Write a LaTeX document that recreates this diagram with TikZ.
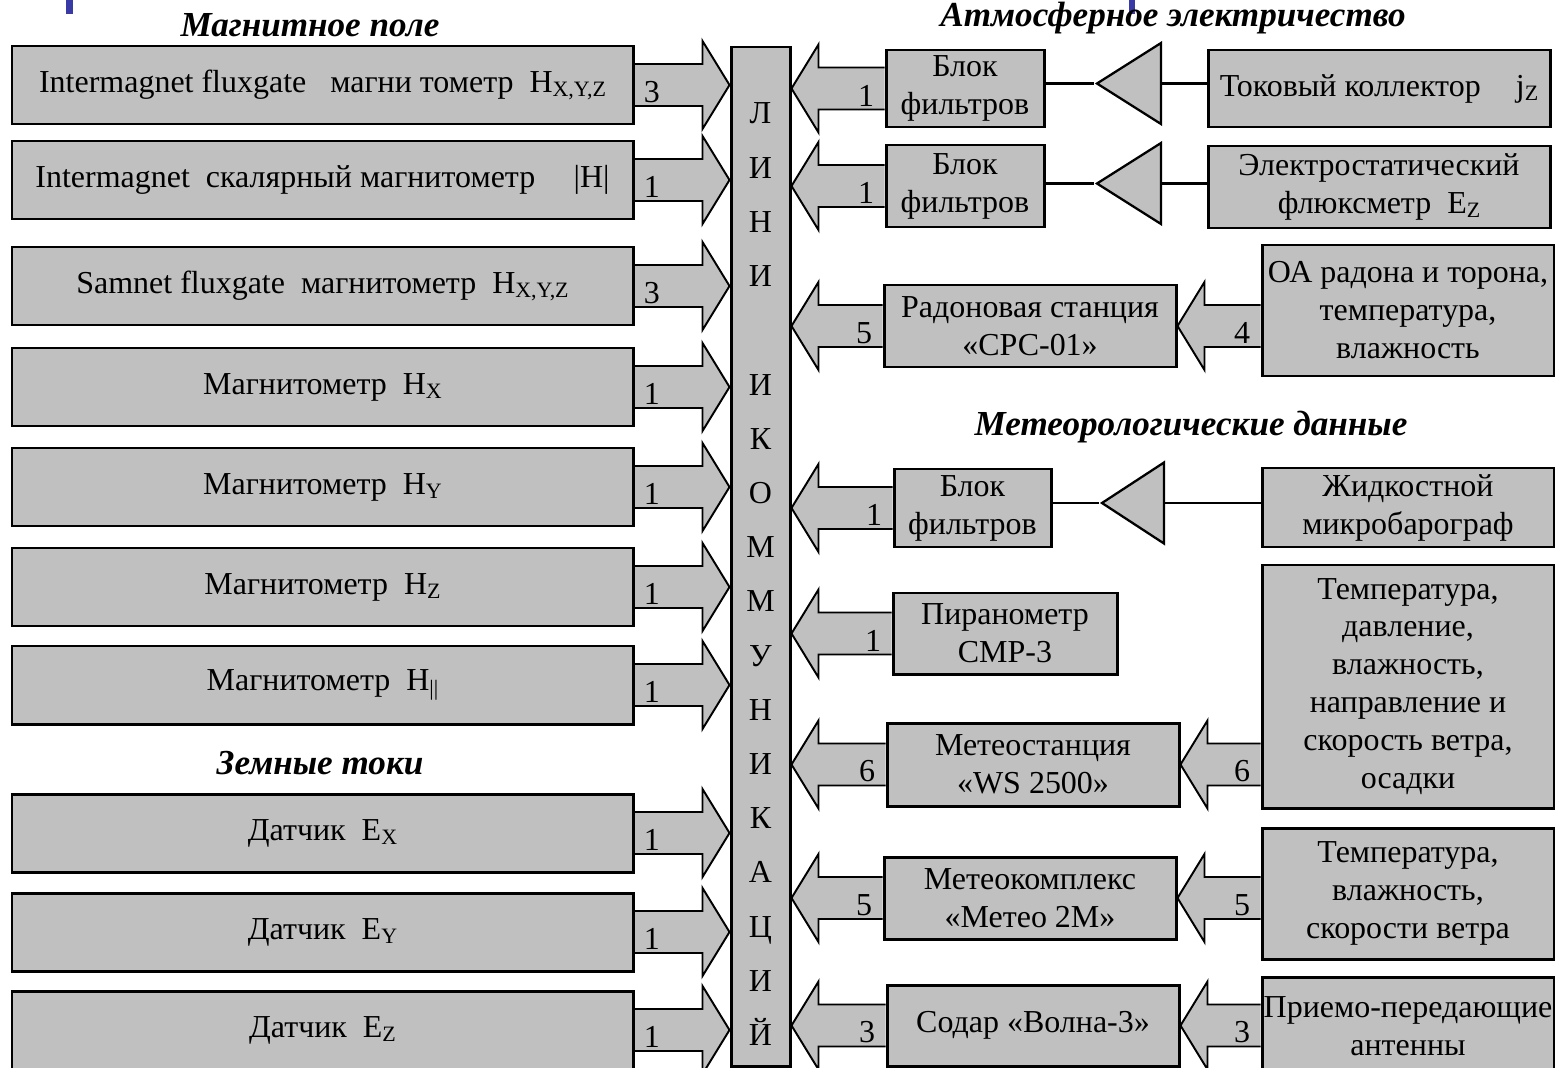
\documentclass[tikz,border=0pt]{standalone}
\usepackage{fontspec}
\setmainfont{Liberation Serif}
\usepackage{tikz}
\usetikzlibrary{calc,positioning,shapes.geometric,backgrounds}
\definecolor{Panel}{HTML}{C0C0C0}
\definecolor{Mark}{HTML}{3A3AA6}
\newcommand{\pxu}{0.02cm}
\newcommand{\shafthalf}{0.42cm}
\newcommand{\headhalf}{0.88cm}
\newcommand{\headlen}{0.54cm}
\newcommand{\bodyfont}{\fontsize{18.2}{21.6}\selectfont}
\newcommand{\titlefont}{\fontsize{20}{23}\selectfont\bfseries\itshape}
\newcommand{\subs}[1]{\raisebox{-0.3ex}{\fontsize{12.5}{13}\selectfont #1}}
\tikzset{
  box/.style={draw=black,line width=1.7pt,fill=Panel,inner sep=0pt,align=center,font=\bodyfont},
  wh/.style 2 args={minimum width=#1*\pxu,minimum height=#2*\pxu},
  lbox/.style={wh={621}{78}},
  fat/.style={draw=black,line width=1.1pt,fill=Panel,line join=miter},
  num/.style={font=\bodyfont,inner sep=0pt},
  letter/.style={font=\bodyfont,inner sep=0pt,anchor=base},
  % the triangle is rotated, so width and height swap here
  amp/.style={draw=black,line width=1.3pt,fill=Panel,isosceles triangle,
    isosceles triangle stretches,shape border rotate=180,inner sep=0pt,wh={81}{64},anchor=apex},
  wire/.style={draw=black,line width=1.25pt},
  heading/.style={font=\titlefont,inner sep=0pt}
}
% block arrow pointing right, number near its tail
\newcommand{\toright}[4]{%
  \begin{scope}[on background layer]
  \filldraw[fat] let \p1=(#2), \p2=(#3) in
    (\x1,{\y1+\shafthalf}) -- ({\x2-\headlen},{\y1+\shafthalf}) -- ({\x2-\headlen},{\y1+\headhalf})
    -- (\x2,\y1) -- ({\x2-\headlen},{\y1-\headhalf}) -- ({\x2-\headlen},{\y1-\shafthalf}) -- (\x1,{\y1-\shafthalf});
  \end{scope}
  \node[num,anchor=south west] (#1) at ($(#2)+(9,18)$) {#4};
}
% block arrow pointing left
\newcommand{\toleft}[4]{%
  \begin{scope}[on background layer]
  \filldraw[fat] let \p1=(#2), \p2=(#3) in
    (\x1,{\y1+\shafthalf}) -- ({\x2+\headlen},{\y1+\shafthalf}) -- ({\x2+\headlen},{\y1+\headhalf})
    -- (\x2,\y1) -- ({\x2+\headlen},{\y1-\headhalf}) -- ({\x2+\headlen},{\y1-\shafthalf}) -- (\x1,{\y1-\shafthalf});
  \end{scope}
  \node[num,anchor=south east] (#1) at ($(#2)+(-10,18)$) {#4};
}
\begin{document}
\begin{tikzpicture}[x=0.02cm,y=-0.02cm]
  \useasboundingbox (0,0) rectangle (1555,1068);
  \fill[Mark] (66,0) rectangle (73,14);
  \fill[Mark] (1129,0) rectangle (1135,14);

  % headings
  \node[heading] (t1) at (310,25) {Магнитное поле};
  \node[heading] (t2) at (1173,18) {Атмосферное электричество};
  \node[heading] (t3) at (1191,427) {Метеорологические данные};
  \node[heading] (t4) at (320,763) {Земные токи};

  % communication bus
  \node[box,wh={59}{1019}] (bus) at (760.5,556.5) {};
  \foreach \i/\ch in {1/Л,2/И,3/Н,4/И,6/И,7/К,8/О,9/М,10/М,11/У,12/Н,13/И,14/К,15/А,16/Ц,17/И,18/Й}
    \node[letter] (ch\i) at (760.5,{113+(\i-1)*54.2+11}) {\ch};

  % sensors on the left
  \foreach \r/\yt/\txt/\cnt in {
      1/46/{Intermagnet fluxgate\enspace\ магни тометр\ \ H\subs{X,Y,Z}}/3,
      2/141/{Intermagnet\ \ скалярный магнитометр\hspace{1.2em}|H|}/1,
      3/247/{Samnet fluxgate\ \ магнитометр\ \ H\subs{X,Y,Z}}/3,
      4/348/{Магнитометр\ \ H\subs{X}}/1,
      5/448/{Магнитометр\ \ H\subs{Y}}/1,
      6/548/{Магнитометр\ \ H\subs{Z}}/1,
      7/646/{Магнитометр\ \ H\subs{||}}/1,
      8/794/{Датчик\ \ E\subs{X}}/1,
      9/893/{Датчик\ \ E\subs{Y}}/1,
      10/991/{Датчик\ \ E\subs{Z}}/1}{
    \node[box,lbox] (m\r) at (322.5,{\yt+39}) {\txt};
    \toright{k\r}{m\r.east}{bus.west |- m\r.east}{\cnt}
  }

  % atmospheric electricity
  \node[box,wh={158}{77}] (f1) at (965,88.5) {Блок\\фильтров};
  \node[amp] (a1) at (1094,83.5) {};
  \node[box,wh={342}{77}] (c1) at (1379,88.5) {Токовый коллектор\hspace{1.1em}j\subs{Z}};
  \node[box,wh={158}{82}] (f2) at (965,186) {Блок\\фильтров};
  \node[amp] (a2) at (1094,183.5) {};
  \node[box,wh={342}{82}] (c2) at (1379,187) {Электростатический\\флюксметр\ \ E\subs{Z}};
  \draw[wire] (f1.east |- a1.apex) -- (a1.apex);
  \draw[wire] (a1.lower side) -- (a1.lower side -| c1.west);
  \draw[wire] (f2.east |- a2.apex) -- (a2.apex);
  \draw[wire] (a2.lower side) -- (a2.lower side -| c2.west);
  \toleft{n1}{f1.west}{bus.east |- f1.west}{1}
  \toleft{n2}{f2.west}{bus.east |- f2.west}{1}

  % radon
  \node[box,wh={292}{82}] (rs) at (1030,326) {Радоновая станция\\«СРС-01»};
  \node[box,wh={292}{131}] (oa) at (1408,310.5) {ОА радона и торона,\\температура,\\влажность};
  \toleft{n3}{rs.west}{bus.east |- rs.west}{5}
  \toleft{n4}{oa.west |- rs.east}{rs.east}{4}

  % meteorology
  \node[box,wh={157}{78}] (f3) at (972.5,508) {Блок\\фильтров};
  \node[amp,wh={81}{62}] (a3) at (1099,503) {};
  \node[box,wh={292}{79}] (mb) at (1408,507.5) {Жидкостной\\микробарограф};
  \draw[wire] (f3.east |- a3.apex) -- (a3.apex);
  \draw[wire] (a3.lower side) -- (a3.lower side -| mb.west);
  \toleft{n5}{f3.west}{bus.east |- f3.west}{1}

  \node[box,wh={224}{81}] (pm) at (1005,633.5) {Пиранометр\\СМР-3};
  \toleft{n6}{pm.west}{bus.east |- pm.west}{1}

  \node[box,wh={292}{83}] (ws) at (1033,764.5) {Метеостанция\\«WS 2500»};
  \node[box,wh={292}{243}] (wd) at (1408,686.5)
    {Температура,\\давление,\\влажность,\\направление и\\скорость ветра,\\осадки};
  \toleft{n7}{ws.west}{bus.east |- ws.west}{6}
  \toleft{n8}{wd.west |- ws.east}{ws.east}{6}

  \node[box,wh={292}{82}] (mk) at (1030,898) {Метеокомплекс\\«Метео 2М»};
  \node[box,wh={292}{131}] (md) at (1408,893.5) {Температура,\\влажность,\\скорости ветра};
  \toleft{n9}{mk.west}{bus.east |- mk.west}{5}
  \toleft{n10}{md.west |- mk.east}{mk.east}{5}

  \node[box,wh={292}{81}] (sd) at (1033,1025.5) {Содар «Волна-3»};
  \node[box,wh={292}{98}] (an) at (1408,1026) {Приемо-передающие\\антенны};
  \toleft{n11}{sd.west}{bus.east |- sd.west}{3}
  \toleft{n12}{an.west |- sd.east}{sd.east}{3}
\end{tikzpicture}
\end{document}
